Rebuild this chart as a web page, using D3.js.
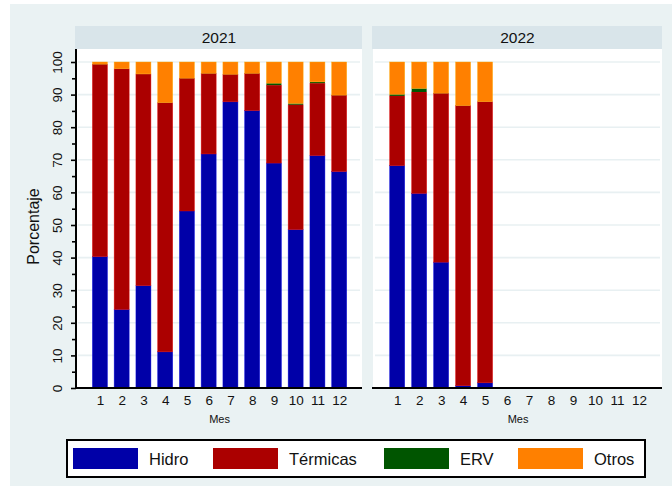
<!DOCTYPE html>
<html>
<head>
<meta charset="utf-8">
<script src="https://cdn.jsdelivr.net/npm/d3@7"></script>
<style>
  body { margin: 0; background: #fff; }
  svg { display: block; font-family: "Liberation Sans", Arial, sans-serif; }
</style>
</head>
<body>
<svg id="chart" width="672" height="488"></svg>
<script>
const months = [1, 2, 3, 4, 5, 6, 7, 8, 9, 10, 11, 12];
const years = ["2021", "2022"];
const seriesNames = ["Hidro", "Térmicas", "ERV", "Otros"];
const seriesColors = ["#0000a8", "#ab0000", "#005500", "#ff8000"];
const yTicks = [0, 10, 20, 30, 40, 50, 60, 70, 80, 90, 100];

// percentages per month; Otros fills to 100
const hidro2021 = [40.3, 24.1, 31.4, 11.1, 54.3, 71.8, 87.8, 85.1, 69.0, 48.6, 71.3, 66.4];
const termicas2021 = [59.0, 73.8, 64.9, 76.4, 40.7, 24.7, 8.4, 11.4, 23.9, 38.3, 22.2, 23.4];
const erv2021 = [0.05, 0.05, 0.05, 0.05, 0.05, 0.05, 0.05, 0.05, 0.6, 0.4, 0.4, 0.05];
const otros2021 = [0.65, 2.05, 3.65, 12.45, 4.95, 3.45, 3.75, 3.45, 6.5, 12.7, 6.1, 10.15];

const hidro2022 = [68.2, 59.7, 38.6, 0.7, 1.6];
const termicas2022 = [21.4, 31.1, 51.8, 85.9, 86.2];
const erv2022 = [0.5, 1.1, 0.05, 0.05, 0.05];
const otros2022 = [9.9, 8.1, 9.55, 13.35, 12.15];

const panelData = {
  "2021": [hidro2021, termicas2021, erv2021, otros2021],
  "2022": [hidro2022, termicas2022, erv2022, otros2022]
};

const svg = d3.select("#chart");

svg.append("rect")
  .attr("x", 10).attr("y", 4)
  .attr("width", 662).attr("height", 482)
  .attr("fill", "#eaf2f3");

const plotTop = 49;
const plotBottom = 388;
const panels = [
  { year: years[0], left: 76, right: 362 },
  { year: years[1], left: 373, right: 662 }
];

const yScale = d3.scaleLinear().domain([0, 100]).range([plotBottom, 62]);

panels.forEach((p, pi) => {
  const g = svg.append("g");
  const xScale = d3.scaleLinear()
    .domain([-0.1, 13.05])
    .range([p.left, p.right]);

  // header strip
  g.append("rect")
    .attr("x", p.left - 1).attr("y", 26)
    .attr("width", p.right - p.left + 1).attr("height", plotTop - 26)
    .attr("fill", "#d9e5ea");
  g.append("text")
    .attr("x", (p.left + p.right) / 2).attr("y", 43)
    .attr("text-anchor", "middle")
    .attr("font-size", 15.5)
    .attr("fill", "#111")
    .text(p.year);

  // plot area
  g.append("rect")
    .attr("x", p.left).attr("y", plotTop)
    .attr("width", p.right - p.left).attr("height", plotBottom - plotTop)
    .attr("fill", "#fff");

  // gridlines
  g.selectAll(".grid")
    .data(yTicks.slice(1))
    .enter()
    .append("line")
    .attr("x1", p.left + 2).attr("x2", p.right - 2)
    .attr("y1", d => yScale(d)).attr("y2", d => yScale(d))
    .attr("stroke", "#e8f0f2")
    .attr("stroke-width", 1.6);

  // stacked bars
  const cols = panelData[p.year];
  const rows = cols[0].map((_, i) => {
    const r = { month: months[i] };
    seriesNames.forEach((s, si) => { r[s] = cols[si][i]; });
    return r;
  });
  const stacked = d3.stack().keys(seriesNames)(rows);
  const barW = 15;
  stacked.forEach((layer, si) => {
    g.append("g")
      .selectAll("rect")
      .data(layer)
      .enter()
      .append("rect")
      .attr("x", d => xScale(d.data.month) - barW / 2)
      .attr("width", barW)
      .attr("y", d => yScale(Math.min(d[1], 100)))
      .attr("height", d => Math.max(0, yScale(d[0]) - yScale(Math.min(d[1], 100))))
      .attr("fill", seriesColors[si])
      .attr("stroke", d3.color(seriesColors[si]).brighter(0.8))
      .attr("stroke-width", si === 2 ? 0 : 0.6)
      .attr("stroke-opacity", 0.7);
  });

  // x axis
  const xAxis = d3.axisBottom(xScale)
    .tickValues(months)
    .tickSize(0)
    .tickPadding(7)
    .tickFormat(d3.format("d"));
  const xg = g.append("g")
    .attr("transform", `translate(0,${plotBottom})`)
    .call(xAxis);
  xg.select(".domain").remove();
  xg.selectAll("text").attr("font-size", 13.5).attr("fill", "#111")
    .attr("font-family", "Liberation Sans, Arial, sans-serif");
  g.append("line")
    .attr("x1", p.left - 1).attr("x2", p.right)
    .attr("y1", plotBottom).attr("y2", plotBottom)
    .attr("stroke", "#000").attr("stroke-width", 2);

  g.append("text")
    .attr("x", xScale(6.5)).attr("y", 423)
    .attr("text-anchor", "middle")
    .attr("font-size", 11)
    .attr("fill", "#111")
    .text("Mes");

  // y axis only on first panel
  if (pi === 0) {
    const minorG = g.append("g")
      .attr("transform", `translate(${p.left},0)`)
      .call(d3.axisLeft(yScale).tickValues(d3.range(5, 100, 10)).tickSize(4).tickFormat(""));
    minorG.select(".domain").remove();
    minorG.selectAll("line").attr("stroke-width", 1.6);

    const yg = g.append("g")
      .attr("transform", `translate(${p.left},0)`)
      .call(d3.axisLeft(yScale).tickValues(yTicks).tickSize(5).tickPadding(5));
    yg.select(".domain").remove();
    yg.selectAll("line").attr("stroke-width", 1.6);
    yg.selectAll("text")
      .attr("font-size", 13.5)
      .attr("fill", "#111")
      .attr("font-family", "Liberation Sans, Arial, sans-serif")
      .attr("transform", "rotate(-90) translate(0,-4)")
      .attr("x", 0).attr("dy", 0)
      .attr("y", -10)
      .attr("text-anchor", "middle");

    g.append("line")
      .attr("x1", p.left).attr("x2", p.left)
      .attr("y1", plotTop).attr("y2", plotBottom + 1)
      .attr("stroke", "#000").attr("stroke-width", 2);

    g.append("text")
      .attr("transform", `translate(39,${(plotTop + plotBottom) / 2 + 8}) rotate(-90)`)
      .attr("text-anchor", "middle")
      .attr("font-size", 16)
      .attr("fill", "#111")
      .text("Porcentaje");
  }
});

// legend
const legend = svg.append("g");
legend.append("rect")
  .attr("x", 67).attr("y", 440)
  .attr("width", 578).attr("height", 37)
  .attr("fill", "#fff")
  .attr("stroke", "#000")
  .attr("stroke-width", 2);

const legendSwatchX = [73, 213, 384, 518];
seriesNames.forEach((s, i) => {
  const lx = legendSwatchX[i];
  legend.append("rect")
    .attr("x", lx).attr("y", 448)
    .attr("width", 65).attr("height", 21)
    .attr("fill", seriesColors[i]);
  legend.append("text")
    .attr("x", lx + 76).attr("y", 465)
    .attr("font-size", 16.5)
    .attr("fill", "#111")
    .text(s);
});
</script>
</body>
</html>
